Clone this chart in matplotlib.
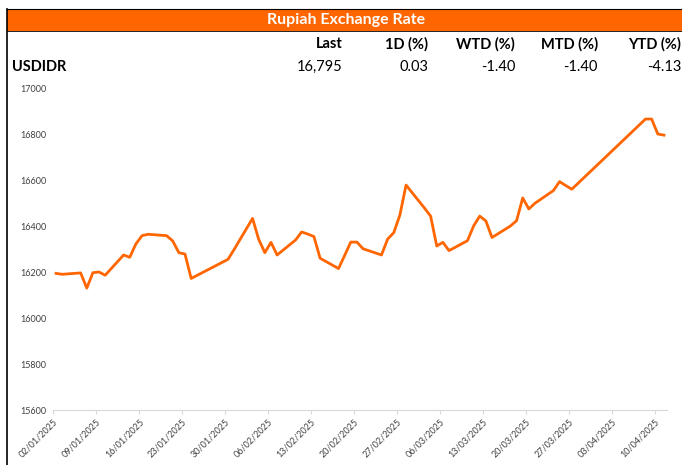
import pandas as pd
import matplotlib
matplotlib.use('Agg')
import matplotlib.pyplot as plt
from matplotlib.patches import Rectangle
from matplotlib.lines import Line2D

# ---- data ----
dates = ['2025-01-02', '2025-01-03', '2025-01-06', '2025-01-07', '2025-01-08', '2025-01-09', '2025-01-10',
         '2025-01-13', '2025-01-14', '2025-01-15', '2025-01-16', '2025-01-17',
         '2025-01-20', '2025-01-21', '2025-01-22', '2025-01-23', '2025-01-24',
         '2025-01-30', '2025-01-31',
         '2025-02-03', '2025-02-04', '2025-02-05', '2025-02-06', '2025-02-07',
         '2025-02-10', '2025-02-11', '2025-02-12', '2025-02-13', '2025-02-14',
         '2025-02-17', '2025-02-18', '2025-02-19', '2025-02-20', '2025-02-21',
         '2025-02-24', '2025-02-25', '2025-02-26', '2025-02-27', '2025-02-28',
         '2025-03-03', '2025-03-04', '2025-03-05', '2025-03-06', '2025-03-07',
         '2025-03-10', '2025-03-11', '2025-03-12', '2025-03-13', '2025-03-14',
         '2025-03-17', '2025-03-18', '2025-03-19', '2025-03-20', '2025-03-21',
         '2025-03-24', '2025-03-25', '2025-03-26', '2025-03-27',
         '2025-04-08', '2025-04-09', '2025-04-10', '2025-04-11']
rates = [16194, 16190, 16196, 16130, 16197, 16200, 16186,
         16274, 16264, 16322, 16358, 16364,
         16358, 16335, 16284, 16278, 16172,
         16255, 16298,
         16433, 16342, 16284, 16329, 16274,
         16339, 16374, 16365, 16354, 16260,
         16215, 16272, 16330, 16330, 16301,
         16274, 16343, 16371, 16448, 16578,
         16478, 16443, 16313, 16329, 16293,
         16336, 16400, 16443, 16422, 16350,
         16400, 16423, 16522, 16474, 16499,
         16554, 16593, 16576, 16560,
         16865, 16865, 16800, 16795]
tick_labels = ['02/01/2025', '09/01/2025', '16/01/2025', '23/01/2025', '30/01/2025',
               '06/02/2025', '13/02/2025', '20/02/2025', '27/02/2025', '06/03/2025',
               '13/03/2025', '20/03/2025', '27/03/2025', '03/04/2025', '10/04/2025']
y_ticks = [15600, 15800, 16000, 16200, 16400, 16600, 16800, 17000]

title = 'Rupiah Exchange Rate'
headers = ['Last', '1D (%)', 'WTD (%)', 'MTD (%)', 'YTD (%)']
row_name = 'USDIDR'
row_values = ['16,795', '0.03', '-1.40', '-1.40', '-4.13']

ORANGE = '#FF6600'
W, H = 682, 465

start = pd.Timestamp(dates[0])
days = [(pd.Timestamp(d) - start).days for d in dates]
tick_days = [(pd.Timestamp(t[6:] + '-' + t[3:5] + '-' + t[:2]) - start).days - 0.5 for t in tick_labels]

fig = plt.figure(figsize=(W / 100, H / 100), dpi=100)
plt.rcParams['font.family'] = ['Lato', 'DejaVu Sans']


def fx(x):
    return x / W


def fy(y):
    return 1 - y / H


# header band
fig.patches.append(Rectangle((fx(7), fy(31)), 1, fy(9) - fy(31), transform=fig.transFigure,
                             facecolor=ORANGE, edgecolor='none'))
fig.lines.append(Line2D([fx(7), 1], [fy(9), fy(9)], transform=fig.transFigure, color='black', lw=0.8))
fig.lines.append(Line2D([fx(7), 1], [fy(31), fy(31)], transform=fig.transFigure, color='black', lw=0.6))
fig.lines.append(Line2D([fx(7), fx(7)], [fy(9), 0], transform=fig.transFigure, color='black', lw=1.2))
fig.text(fx(346), fy(20), title, color='white', fontsize=11.5, fontweight='bold', ha='center', va='center')

# summary table
col_right = [343, 428, 515, 598, 681]
for x, h in zip(col_right, headers):
    fig.text(fx(x), fy(44), h, fontsize=10.5, fontweight='bold', ha='right', va='center')
fig.text(fx(12), fy(67), row_name, fontsize=10.5, fontweight='bold', ha='left', va='center')
for x, v in zip(col_right, row_values):
    fig.text(fx(x), fy(67), v, fontsize=10.5, ha='right', va='center')

# chart
ax = fig.add_axes([fx(53), fy(410), fx(667) - fx(53), fy(88) - fy(410)])
ax.plot(days, rates, color=ORANGE, lw=2.0, solid_joinstyle='round')
ax.set_xlim(-0.5, days[-1] + 0.5)
ax.set_ylim(15600, 17000)
ax.set_yticks(y_ticks)
ax.set_yticklabels([str(v) for v in y_ticks])
ax.set_xticks(tick_days)
ax.set_xticklabels(tick_labels, rotation=45, ha='right', va='top', rotation_mode='anchor')
for s in ['top', 'right', 'left']:
    ax.spines[s].set_visible(False)
ax.spines['bottom'].set_color('#D9D9D9')
ax.spines['bottom'].set_linewidth(0.8)
ax.tick_params(axis='y', length=0, pad=5, labelsize=6.5, labelcolor='#404040')
ax.tick_params(axis='x', length=3, color='#D9D9D9', pad=2, labelsize=6.5, labelcolor='#404040')

fig.savefig('out.png', dpi=100)
